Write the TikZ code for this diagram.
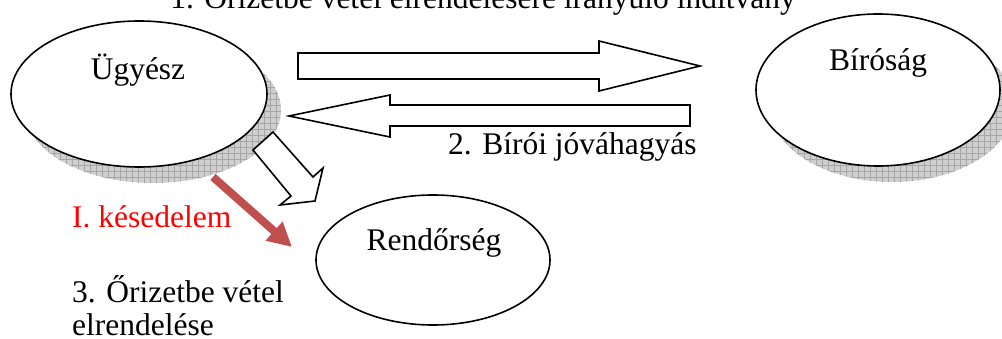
\documentclass[tikz,border=0pt]{standalone}
\usepackage{fontspec}
\setmainfont{Liberation Serif}
\usetikzlibrary{shapes.geometric,arrows.meta,patterns.meta}
\definecolor{redline}{RGB}{192,80,77}
\definecolor{redtext}{RGB}{255,0,0}
\tikzset{
  ell/.style={ellipse,draw=black,line width=1.6pt,fill=white,inner sep=0pt},
  shadowfill/.style={fill=gray!38,postaction={pattern={Hatch[angle=0,distance=6pt,line width=0.5pt]},pattern color=gray!70}},
  txt/.style={font=\fontsize{31.5}{33}\selectfont,inner sep=0pt},
  blockarrow/.style={draw=black,line width=1.6pt,fill=white,line join=miter},
  delay/.style={draw=redline,line width=8pt,-{Triangle[length=24pt,width=24pt]}}
}
\begin{document}
\begin{tikzpicture}[x=1pt,y=-1pt]
\clip (0,0) rectangle (1002,339);
% shadows
\fill[shadowfill] (153,110) ellipse [x radius=128pt, y radius=73pt];
\fill[shadowfill] (892,106) ellipse [x radius=122pt, y radius=76pt];
% ellipses
\node[ell,minimum width=256pt,minimum height=146pt] (ug) at (139,94) {};
\node[ell,minimum width=244pt,minimum height=152pt] (bir) at (878,90) {};
\node[ell,minimum width=234pt,minimum height=130pt] (rend) at (433,260) {};
% labels in ellipses
\node[txt,anchor=base] (ugt) at (138,80) {Ügyész};
\node[txt,anchor=base] (birt) at (878,71) {Bíróság};
\node[txt,anchor=base] (rendt) at (434,251) {Rendőrség};
% block arrows
\draw[blockarrow] (298,53) -- (599,53) -- (599,41) -- (700,66) -- (599,91) -- (599,79) -- (298,79) -- cycle;
\draw[blockarrow] (690,105) -- (390,105) -- (390,95) -- (289,116) -- (390,137) -- (390,126) -- (690,126) -- cycle;
\draw[blockarrow] (253,150) -- (273,132) -- (313,177) -- (323,168) -- (315,201) -- (280,205) -- (291,196) -- cycle;
% red delay arrow
\coordinate (rs) at (213,177);
\coordinate (re) at (292,247);
\draw[delay] (rs) -- (re);
% texts
\node[txt,anchor=base] (title) at (483,9) {1. Őrizetbe vétel elrendelésére irányuló indítvány};
\node[txt,anchor=base west] (jova) at (448,155) {2. Bírói jóváhagyás};
\node[txt,anchor=base west,text=redtext] (kes) at (72,228) {I. késedelem};
\node[txt,anchor=base west] (ori1) at (72,302) {3. Őrizetbe vétel};
\node[txt,anchor=base west] (ori2) at (72,335) {elrendelése};
\end{tikzpicture}
\end{document}
